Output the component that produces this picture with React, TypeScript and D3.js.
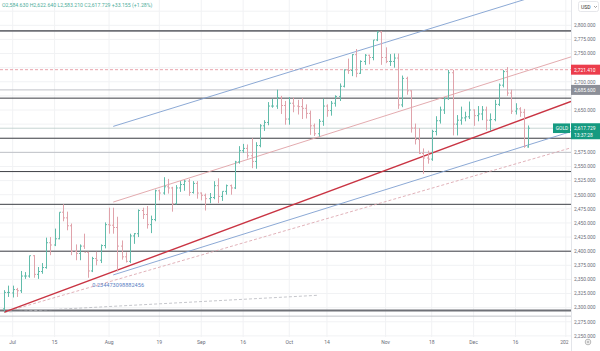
import React from "react";
import * as d3 from "d3";

// daily XAUUSD bars, 27 Jun 2024 .. 19 Dec 2024 (one value per weekday)
const opens = [
  2298, 2327, 2326, 2332, 2330, 2356, 2356, 2392, 2359, 2364, 2371, 2415, 2411, 2422, 2469, 2459, 2445, 2400, 2396, 2409,
  2398, 2365, 2387, 2384, 2410, 2447, 2446, 2442, 2409, 2390, 2382, 2427, 2431, 2472, 2465, 2447, 2456, 2507, 2503, 2514,
  2512, 2484, 2512, 2518, 2524, 2504, 2520, 2503, 2499, 2493, 2495, 2516, 2497, 2506, 2516, 2512, 2558, 2578, 2582, 2569,
  2559, 2587, 2622, 2628, 2657, 2657, 2672, 2658, 2634, 2662, 2657, 2656, 2653, 2644, 2622, 2608, 2630, 2657, 2649, 2662,
  2674, 2692, 2721, 2720, 2748, 2715, 2736, 2747, 2743, 2774, 2788, 2743, 2736, 2736, 2742, 2659, 2706, 2684, 2618, 2598,
  2573, 2565, 2563, 2612, 2631, 2650, 2670, 2716, 2625, 2632, 2636, 2638, 2650, 2640, 2643, 2650, 2632, 2633, 2660, 2694,
  2718, 2680, 2648, 2652, 2646, 2584.63,
];
const highs = [
  2331, 2339, 2339, 2335, 2365, 2363, 2392, 2393, 2372, 2379, 2424, 2425, 2440, 2469, 2483, 2470, 2449, 2412, 2412, 2431,
  2399, 2390, 2399, 2412, 2451, 2477, 2477, 2461, 2419, 2398, 2431, 2432, 2474, 2477, 2480, 2463, 2509, 2509, 2531, 2528,
  2514, 2517, 2524, 2526, 2528, 2524, 2524, 2504, 2502, 2503, 2524, 2529, 2506, 2518, 2518, 2560, 2586, 2590, 2589, 2600,
  2593, 2625, 2632, 2664, 2670, 2686, 2675, 2666, 2673, 2672, 2668, 2671, 2660, 2649, 2626, 2634, 2670, 2660, 2666, 2676,
  2697, 2722, 2741, 2749, 2758, 2738, 2749, 2748, 2774, 2790, 2790, 2761, 2749, 2750, 2750, 2711, 2709, 2685, 2626, 2618,
  2582, 2578, 2615, 2639, 2656, 2673, 2721, 2721, 2641, 2656, 2647, 2665, 2651, 2657, 2657, 2656, 2644, 2668, 2697, 2721,
  2726, 2686, 2662, 2655, 2652, 2622.64,
];
const lows = [
  2293, 2319, 2318, 2319, 2326, 2351, 2353, 2353, 2351, 2360, 2369, 2393, 2409, 2421, 2453, 2437, 2393, 2384, 2384, 2404,
  2353, 2363, 2375, 2379, 2405, 2431, 2431, 2364, 2385, 2380, 2379, 2413, 2425, 2457, 2440, 2432, 2453, 2490, 2500, 2502,
  2470, 2483, 2505, 2507, 2498, 2502, 2493, 2490, 2472, 2485, 2492, 2485, 2489, 2500, 2500, 2510, 2555, 2574, 2564, 2547,
  2546, 2584, 2613, 2623, 2654, 2652, 2643, 2624, 2624, 2646, 2642, 2634, 2635, 2606, 2604, 2603, 2622, 2638, 2640, 2656,
  2666, 2690, 2714, 2710, 2708, 2714, 2730, 2731, 2738, 2772, 2730, 2733, 2728, 2725, 2652, 2655, 2677, 2610, 2589, 2572,
  2537, 2555, 2560, 2605, 2626, 2643, 2668, 2605, 2605, 2624, 2630, 2634, 2622, 2630, 2632, 2614, 2613, 2630, 2657, 2690,
  2675, 2643, 2642, 2638, 2583, 2583.21,
];
const closes = [
  2327, 2327, 2332, 2330, 2356, 2356, 2392, 2359, 2364, 2371, 2415, 2411, 2422, 2469, 2459, 2445, 2400, 2396, 2409, 2398,
  2365, 2387, 2384, 2410, 2447, 2446, 2442, 2409, 2390, 2382, 2427, 2431, 2472, 2465, 2447, 2456, 2507, 2503, 2514, 2512,
  2484, 2512, 2518, 2524, 2504, 2520, 2503, 2499, 2493, 2495, 2516, 2497, 2506, 2516, 2512, 2558, 2578, 2582, 2569, 2559,
  2587, 2622, 2628, 2657, 2657, 2672, 2658, 2634, 2662, 2657, 2656, 2653, 2644, 2622, 2608, 2630, 2657, 2649, 2662, 2674,
  2692, 2721, 2720, 2748, 2715, 2736, 2747, 2743, 2774, 2788, 2743, 2736, 2736, 2742, 2659, 2706, 2684, 2618, 2598, 2573,
  2565, 2563, 2612, 2631, 2650, 2670, 2716, 2625, 2632, 2636, 2638, 2650, 2640, 2643, 2650, 2632, 2633, 2660, 2694, 2718,
  2680, 2648, 2652, 2646, 2586, 2617.729,
];

const tickDates = [
  "2024-07-01", "2024-07-15", "2024-08-01", "2024-08-19", "2024-09-02", "2024-09-16", "2024-10-01",
  "2024-10-14", "2024-11-01", "2024-11-18", "2024-12-02", "2024-12-16", "2025-01-01",
];
const tickLabels = ["Jul", "15", "Aug", "19", "Sep", "16", "Oct", "14", "Nov", "18", "Dec", "16", "2025"];

const priceTicks = [
  2250, 2275, 2300, 2325, 2350, 2375, 2400, 2425, 2450, 2475, 2500, 2525, 2550, 2575, 2600, 2625, 2650, 2675,
  2700, 2725, 2750, 2775, 2800, 2825,
];

// drawn levels
const strongLevels = [2790, 2295];
const levels = [2671, 2600, 2541, 2483, 2400];
const thinLevels = [2685.6, 2575, 2285];
const alertLevel = 2721.41;

// trend lines as [bar index, price] anchor pairs
const redTrend = [[0, 2292], [125, 2637]];
const pinkChannel = [[26, 2487], [125, 2720]];
const blueUpper = [[26, 2621], [123, 2843]];
const blueLower = [[26, 2358], [125, 2588]];
const dashedTrend = [[0, 2292], [125, 2561]];
const flatTrend = [[0, 2292], [75, 2322]];

const W = 600;
const H = 351;
const PR = 571; // right edge of the plot
const PB = 337; // bottom edge of the plot
const FONT = "Roboto, 'Liberation Sans', sans-serif";

function weekdays(from: string, to: string) {
  const out: string[] = [];
  const end = new Date(to + "T00:00:00Z");
  for (let d = new Date(from + "T00:00:00Z"); d <= end; d.setUTCDate(d.getUTCDate() + 1)) {
    const wd = d.getUTCDay();
    if (wd !== 0 && wd !== 6) out.push(d.toISOString().slice(0, 10));
  }
  return out;
}

const days = weekdays("2024-06-27", "2025-01-01");

export default function App() {
  const x = d3.scaleLinear().domain([0, days.length - 1]).range([4.3, 565.8]);
  const y = d3.scaleLinear().domain([2250, 2800]).range([335.9, 25.3]);
  const fmt = d3.format(",.3f");

  const seg = (pts: number[][], extend: boolean) => {
    const [[i0, v0], [i1, v1]] = pts;
    let iEnd = i1;
    let vEnd = v1;
    if (extend) {
      iEnd = x.invert(PR);
      vEnd = v0 + ((v1 - v0) * (iEnd - i0)) / (i1 - i0);
    }
    return { x1: x(i0), y1: y(v0), x2: x(iEnd), y2: y(vEnd) };
  };

  const last = closes.length - 1;
  const lastPrice = closes[last];

  // things sitting on the price scale: [top, bottom]; tick labels under them are hidden
  const boxes = [
    [1.5, 11.5], // currency button
    [y(alertLevel) - 5, y(alertLevel) + 5],
    [y(thinLevels[0]) - 5, y(thinLevels[0]) + 5],
    [y(lastPrice) - 5, y(lastPrice) + 11],
  ];
  const visibleTicks = priceTicks.filter(
    (p) => !boxes.some(([t, b]) => y(p) + 2.2 > t && y(p) - 2.2 < b)
  );

  return (
    <div style={{ position: "absolute", left: 0, top: 0 }}>
      <svg width={W} height={H} style={{ display: "block", background: "#fff" }} fontFamily={FONT}>
        <defs>
          <clipPath id="plot">
            <rect x={0} y={0} width={PR} height={PB} />
          </clipPath>
          <clipPath id="timeaxis">
            <rect x={0} y={PB} width={PR - 2.5} height={H - PB} />
          </clipPath>
        </defs>

        {/* grid */}
        <g stroke="#f1f2f4" strokeWidth={1}>
          {priceTicks.map((p) => (
            <line key={p} x1={0} x2={PR} y1={y(p)} y2={y(p)} />
          ))}
          {tickDates.map((d) => (
            <line key={d} x1={x(days.indexOf(d))} x2={x(days.indexOf(d))} y1={0} y2={PB} />
          ))}
        </g>

        <g clipPath="url(#plot)">
          {/* horizontal levels */}
          {thinLevels.map((p) => (
            <line key={p} x1={0} x2={PR} y1={y(p)} y2={y(p)} stroke="#b9bcc2" strokeWidth={0.9} />
          ))}
          <line x1={0} x2={PR} y1={y(lastPrice)} y2={y(lastPrice)} stroke="#b8c9c6" strokeWidth={0.8} />
          <line
            x1={0}
            x2={PR}
            y1={y(alertLevel)}
            y2={y(alertLevel)}
            stroke="#e79aa2"
            strokeWidth={0.9}
            strokeDasharray="3,2"
          />
          {levels.map((p) => (
            <line key={p} x1={0} x2={PR} y1={y(p)} y2={y(p)} stroke="#3d3f45" strokeWidth={1} />
          ))}
          {strongLevels.map((p) => (
            <line key={p} x1={0} x2={PR} y1={y(p)} y2={y(p)} stroke="#6f7177" strokeWidth={1.8} />
          ))}

          {/* trend lines */}
          <line {...seg(flatTrend, false)} stroke="#b6b8be" strokeWidth={0.8} strokeDasharray="3,2" />
          <line {...seg(dashedTrend, true)} stroke="#d9a0a8" strokeWidth={0.8} strokeDasharray="3,2" />
          <line {...seg(blueLower, true)} stroke="#7f9fd0" strokeWidth={0.9} />
          <line {...seg(blueUpper, true)} stroke="#7f9fd0" strokeWidth={0.9} />
          <line {...seg(pinkChannel, true)} stroke="#e0a1a6" strokeWidth={0.9} />
          <line {...seg(redTrend, true)} stroke="#c93443" strokeWidth={1.4} />

          {/* OHLC bars */}
          {opens.map((o, i) => {
            const c = closes[i];
            const cx = Math.round(x(i)) + 0.5;
            const col = c >= o ? "#62bcab" : "#e0a3ab";
            return (
              <g key={i} stroke={col} strokeWidth={1}>
                <line x1={cx} x2={cx} y1={y(highs[i])} y2={y(lows[i])} />
                <line x1={cx - 1.5} x2={cx} y1={y(o)} y2={y(o)} />
                <line x1={cx} x2={cx + 1.5} y1={y(c)} y2={y(c)} />
              </g>
            );
          })}
        </g>

        <text x={x(21)} y={y(2337)} fontSize={5.6} fill="#5b7fc4">
          0.234473098882456
        </text>

        {/* header */}
        <text x={2} y={6.5} fontSize={5.2} fill="#4fae9b">
          O2,584.630 H2,622.640 L2,583.210 C2,617.729 +33.155 (+1.28%)
        </text>

        {/* price axis */}
        <line x1={PR + 0.5} x2={PR + 0.5} y1={0} y2={H} stroke="#e3e5ea" />
        {visibleTicks.map((p) => (
          <text key={p} x={574} y={y(p) + 1.8} fontSize={4.9} fill="#6a6d78">
            {fmt(p)}
          </text>
        ))}
        <rect x={PR} y={y(alertLevel) - 5} width={W - PR} height={10} fill="#ec3d4c" />
        <text x={574} y={y(alertLevel) + 1.9} fontSize={4.9} fill="#fff">
          {fmt(alertLevel)}
        </text>
        <rect x={PR} y={y(thinLevels[0]) - 5} width={W - PR} height={10} fill="#8c8f98" />
        <text x={574} y={y(thinLevels[0]) + 1.9} fontSize={4.9} fill="#fff">
          {fmt(thinLevels[0])}
        </text>
        <rect x={553} y={y(lastPrice) - 4.8} width={PR - 554} height={9.6} fill="#159a80" />
        <text x={562} y={y(lastPrice) + 1.8} fontSize={4.8} fill="#fff" textAnchor="middle">
          GOLD
        </text>
        <rect x={PR} y={y(lastPrice) - 5} width={W - PR} height={16} fill="#159a80" />
        <text x={574} y={y(lastPrice) + 1.9} fontSize={4.9} fill="#fff">
          {fmt(lastPrice)}
        </text>
        <text x={574} y={y(lastPrice) + 8.6} fontSize={4.9} fill="#fff">
          13:37:28
        </text>

        {/* currency button */}
        <rect x={578.5} y={1.5} width={20} height={10} rx={2} fill="#fff" stroke="#dfe1e6" strokeWidth={0.8} />
        <text x={581} y={8.6} fontSize={5} fill="#333">
          USD
        </text>
        <path d="M594,6 l1.5,1.5 l1.5,-1.5" fill="none" stroke="#666" strokeWidth={0.6} />

        {/* time axis */}
        <g clipPath="url(#timeaxis)">
          {tickDates.map((d, i) => (
            <text key={d} x={x(days.indexOf(d))} y={344} fontSize={5} fill="#6a6d78" textAnchor="middle">
              {tickLabels[i]}
            </text>
          ))}
        </g>
        <circle cx={588} cy={342} r={2.8} fill="none" stroke="#888" strokeWidth={0.6} />
        <circle cx={588} cy={342} r={1} fill="none" stroke="#888" strokeWidth={0.6} />
      </svg>
    </div>
  );
}
